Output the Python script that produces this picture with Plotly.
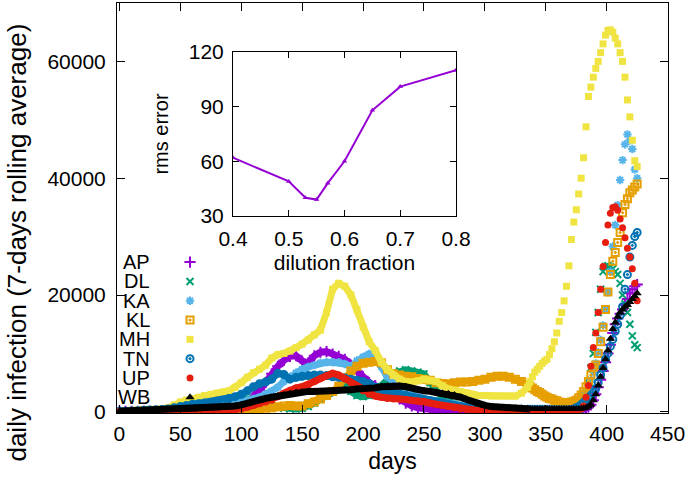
import plotly.graph_objects as go

# ---------------- data ----------------
DAYS_A = list(range(0, 336, 5))      # 0..335 every 5 days
DAYS_B = list(range(337, 426, 2))    # 337..425 every 2 days
DAYS = DAYS_A + DAYS_B

AP = [100, 100, 100, 100, 100, 100, 100, 100, 100, 100, 100, 150, 200, 250, 300, 350, 400, 500, 600, 800,
      1000, 1500, 2500, 3800, 5000, 6500, 7800, 8800, 9500, 9600, 8700, 8400, 9600, 10200, 10300, 9900, 9500, 9000, 8000, 7000,
      6000, 5000, 4500, 4000, 3600, 3000, 2200, 1500, 1000, 700, 500, 400, 300, 250, 200, 200, 150, 150, 150, 150,
      150, 150, 150, 150, 150, 150, 150, 150] + \
     [150, 150, 150, 150, 150, 150, 150, 150, 150, 150, 150, 150, 150, 150, 150, 150, 150, 150, 150, 150,
      150, 150, 300, 500, 800, 1200, 2000, 3000, 4200, 5500, 7000, 8500, 10000, 11500, 13500, 15000, 16000, 16800, 17500, 18300,
      19300, 20300, 21000, 21500, 21800]
DL = [50, 50, 50, 50, 80, 100, 100, 120, 150, 150, 200, 200, 250, 250, 300, 350, 400, 500, 800, 1200,
      1700, 2200, 2000, 1500, 1200, 1000, 800, 600, 500, 500, 600, 900, 1500, 2200, 2700, 3400, 4000, 4300, 3500, 2800,
      2600, 2800, 3400, 4300, 5500, 6500, 7000, 7200, 7000, 6800, 6500, 5000, 3500, 2500, 1800, 1300, 1000, 800, 600, 500,
      400, 400, 400, 400, 400, 400, 400, 400] + \
     [400, 400, 400, 400, 400, 400, 400, 400, 400, 400, 400, 400, 400, 400, 400, 400, 400, 400, 400, 400,
      400, 800, 1500, 3000, 5000, 7500, 10000, 13600, 17000, 21000, 24000, 24900, 25000, 24800, 24500, 24000, 23500, 22000, 20000, 18500,
      17000, 15000, 13000, 11500, 11000]
KA = [100, 100, 120, 150, 150, 200, 200, 250, 250, 300, 300, 400, 500, 600, 700, 800, 900, 1000, 1200, 1400,
      1700, 1900, 2200, 2500, 3000, 3500, 4200, 5200, 6000, 6700, 7300, 7700, 8000, 8400, 8500, 8500, 8500, 8200, 7800, 8800,
      9400, 9900, 9000, 7700, 6000, 5200, 4400, 3600, 3000, 2600, 2200, 2000, 1800, 1600, 1400, 1200, 1000, 900, 800, 700,
      600, 500, 500, 500, 500, 500, 500, 500] + \
     [500, 500, 500, 500, 500, 500, 500, 500, 500, 500, 500, 500, 500, 600, 700, 800, 1000, 1200, 1400, 1700,
      2100, 2500, 3000, 3700, 4500, 5500, 6800, 8300, 10200, 12300, 14800, 17500, 20500, 24000, 28300, 32000, 35400, 39700, 43100, 45800,
      47500, 46500, 45000, 41500, 40000]
KL = [0, 0, 0, 50, 50, 50, 100, 100, 100, 100, 150, 150, 150, 200, 200, 200, 250, 250, 300, 300,
      300, 300, 400, 500, 600, 700, 850, 1000, 1100, 1000, 1000, 1400, 1700, 2200, 2800, 3500, 4400, 5800, 7000, 7800,
      8300, 8500, 8600, 8400, 7200, 6500, 6300, 6100, 6000, 5700, 5600, 5400, 5000, 4800, 4800, 5000, 5100, 5100, 5200, 5400,
      5600, 5900, 6100, 6100, 5900, 5600, 5200, 4700] + \
     [4400, 4100, 3800, 3500, 3300, 3000, 2700, 2500, 2300, 2200, 2000, 1900, 1700, 1600, 1600, 1600, 1600, 1700, 1800, 2000,
      2400, 2900, 3500, 4300, 5200, 6300, 7600, 8000, 10000, 12000, 14500, 17500, 20500, 23500, 25800, 27300, 29000, 30700, 34100, 35500,
      36500, 37500, 38000, 38500, 39000]
MH = [200, 200, 250, 300, 350, 400, 450, 500, 700, 1200, 1700, 2000, 2200, 2500, 2800, 3000, 3200, 3400, 3600, 4200,
      5000, 5900, 6700, 7300, 8000, 9200, 9800, 10000, 10400, 11000, 11600, 12300, 13200, 14000, 17000, 21000, 22000, 21500, 20000, 17500,
      14500, 12000, 10500, 8500, 7200, 6200, 5600, 5200, 5100, 5300, 5600, 5400, 5200, 4500, 3900, 3700, 3400, 3200, 3000, 2800,
      2800, 2700, 2700, 2700, 2700, 2700, 3200, 4200] + \
     [5200, 6000, 6800, 7300, 7800, 8300, 8700, 9000, 9800, 10800, 12000, 13500, 15500, 17000, 19000, 21500, 25000, 29500, 32500, 34600,
      37300, 40000, 43500, 48800, 54000, 55600, 57300, 58800, 60000, 61500, 63000, 64500, 65300, 65400, 65000, 64000, 63000, 61500, 60000, 57300,
      53400, 50500, 46500, 43000, 42000]
TN = [100, 100, 150, 200, 250, 300, 350, 400, 500, 700, 900, 1100, 1300, 1400, 1500, 1600, 1800, 2000, 2300, 2600,
      3000, 3600, 4300, 4800, 5100, 5600, 6600, 6400, 5600, 5900, 6100, 6200, 6300, 6300, 6200, 6000, 5900, 5800, 5600, 5400,
      5200, 4800, 4200, 3800, 3500, 3300, 3100, 2800, 2500, 2200, 2000, 1900, 1700, 1500, 1300, 1100, 900, 700, 500, 400,
      350, 300, 300, 300, 300, 300, 300, 300] + \
     [300, 300, 300, 300, 300, 300, 300, 300, 300, 300, 300, 300, 300, 300, 300, 300, 300, 400, 500, 700,
      900, 1200, 1600, 2000, 2400, 2800, 3300, 4000, 5000, 6300, 7500, 9000, 10000, 11200, 12400, 13800, 15000, 16500, 18000, 21000,
      23500, 26500, 28500, 30000, 30700]
UP = [50, 50, 50, 50, 50, 50, 100, 100, 100, 100, 100, 150, 150, 200, 200, 250, 300, 300, 350, 400,
      500, 800, 1100, 1400, 1700, 2000, 2600, 3200, 3700, 4100, 4300, 4600, 5200, 5700, 6200, 6600, 6300, 5700, 5000, 4200,
      3600, 3000, 2700, 2500, 2300, 2200, 2200, 2100, 2000, 1900, 1800, 1500, 1300, 1100, 900, 700, 500, 400, 300, 200,
      150, 150, 150, 150, 150, 150, 150, 150] + \
     [150, 150, 150, 150, 150, 150, 150, 150, 150, 150, 150, 150, 150, 150, 150, 150, 150, 150, 150, 200,
      300, 500, 1000, 2500, 4500, 7800, 11000, 13500, 17000, 21000, 24900, 29000, 32000, 34000, 35000, 35100, 34500, 33000, 31500, 29800,
      28000, 26500, 24500, 22000, 19000]
WB = [100, 150, 150, 200, 200, 200, 250, 250, 300, 300, 300, 350, 400, 450, 500, 550, 600, 700, 800, 1000,
      1200, 1400, 1700, 2000, 2300, 2500, 2700, 2900, 3100, 3300, 3400, 3500, 3500, 3500, 3500, 3500, 3600, 3700, 3800, 3900,
      3900, 4000, 4100, 4300, 4400, 4400, 4400, 4300, 4000, 3700, 3600, 3500, 3300, 3200, 3100, 2900, 2500, 2100, 1700, 1300,
      1100, 900, 800, 700, 700, 600, 600, 500] + \
     [500, 500, 500, 500, 500, 500, 500, 500, 500, 500, 500, 500, 500, 500, 500, 500, 500, 500, 500, 500,
      500, 550, 600, 700, 900, 1200, 2000, 3000, 4500, 6000, 7500, 9000, 10500, 12500, 14200, 15300, 16300, 17000, 17500, 18000,
      18300, 18800, 19300, 19800, 20300]

STATES = ["AP", "DL", "KA", "KL", "MH", "TN", "UP", "WB"]
SERIES = [AP, DL, KA, KL, MH, TN, UP, WB]

X_TICKS = [0, 50, 100, 150, 200, 250, 300, 350, 400, 450]
Y_TICKS = [0, 20000, 40000, 60000]

# inset: rms error vs dilution fraction
DILUTION = [0.4, 0.5, 0.53, 0.55, 0.57, 0.6, 0.65, 0.7, 0.8]
RMS = [62, 49, 40, 39, 48, 60, 88, 101, 110]
INSET_X_TICKS = [0.4, 0.5, 0.6, 0.7, 0.8]
INSET_Y_TICKS = [30, 60, 90, 120]

# ---------------- styles ----------------
COLORS = ["#9400D3", "#009E73", "#56B4E9", "#E69F00", "#F0E442", "#0072B2", "#E51E10", "#000000"]
SYMBOLS = ["cross-thin-open", "x-thin-open", "asterisk-open", "square-open-dot",
           "square", "circle-open-dot", "circle", "triangle-up"]
SIZES = [8, 7, 7, 7, 7, 7, 7, 8]
LINEW = [2, 2, 2, 2, 0, 2, 0, 0]
BAND_W = 7

FONT = "Liberation Sans, Arial, sans-serif"
NA = len(DAYS_A)

fig = go.Figure()

for name, vals, col, sym, sz, lw in zip(STATES, SERIES, COLORS, SYMBOLS, SIZES, LINEW):
    # slowly varying part drawn as a thick band, like the overlapping daily points
    fig.add_trace(go.Scatter(
        x=DAYS[:NA + 1], y=vals[:NA + 1], mode="lines", showlegend=False, hoverinfo="skip",
        line=dict(color=col, width=BAND_W), xaxis="x", yaxis="y"))
    fig.add_trace(go.Scatter(
        x=DAYS, y=vals, mode="markers", name=name, showlegend=False,
        marker=dict(symbol=sym, size=sz, color=col,
                    line=dict(color=col, width=lw)),
        xaxis="x", yaxis="y"))

# custom legend (text on left, sample marker on right) on a helper axis
leg_y0 = 0.368
leg_dy = 0.0471
for i, (name, col, sym, sz, lw) in enumerate(zip(STATES, COLORS, SYMBOLS, SIZES, LINEW)):
    yy = leg_y0 - i * leg_dy
    fig.add_trace(go.Scatter(
        x=[0.1325], y=[yy], mode="markers", showlegend=False, hoverinfo="skip",
        marker=dict(symbol=sym, size=sz, color=col, line=dict(color=col, width=lw)),
        xaxis="x3", yaxis="y3"))
    fig.add_annotation(x=0.064, y=yy, xref="paper", yref="paper", text=name,
                       showarrow=False, xanchor="right", yanchor="middle",
                       font=dict(family=FONT, size=20, color="black"))

# y-axis title as rotated annotation (centred on the figure height like the reference)
fig.add_annotation(x=-0.182, y=0.415, xref="paper", yref="paper",
                   text="daily infection (7-days rolling average)", textangle=-90,
                   showarrow=False, xanchor="center", yanchor="middle",
                   font=dict(family=FONT, size=26, color="black"))

# inset
fig.add_trace(go.Scatter(
    x=DILUTION, y=RMS, mode="lines+markers", showlegend=False,
    line=dict(color="#9400D3", width=2),
    marker=dict(symbol="triangle-up", size=5, color="#9400D3"),
    xaxis="x2", yaxis="y2"))

axis_common = dict(showline=True, linecolor="black", linewidth=1, mirror="ticks",
                   ticks="inside", tickcolor="black", showgrid=False, zeroline=False,
                   automargin=False, ticklabeloverflow="allow",
                   tickfont=dict(family=FONT, size=21, color="black"))

fig.update_layout(
    width=685, height=478,
    margin=dict(l=117, r=17, t=3, b=65),
    paper_bgcolor="white", plot_bgcolor="white",
    font=dict(family=FONT, size=21, color="black"),
    xaxis=dict(domain=[0, 1], range=[-2, 450.3], tickvals=X_TICKS,
               tickformat="d", ticklen=8, ticklabelstandoff=2,
               title=dict(text="days", font=dict(family=FONT, size=23), standoff=8),
               **axis_common),
    yaxis=dict(domain=[0, 1], range=[-200, 70000], tickvals=Y_TICKS,
               tickformat="d", ticklen=8, ticklabelstandoff=6,
               **axis_common),
    xaxis2=dict(domain=[0.2105, 0.6152], range=[0.4, 0.8], anchor="y2",
                tickvals=INSET_X_TICKS, ticklen=6, ticklabelstandoff=4,
                title=dict(text="dilution fraction", font=dict(family=FONT, size=21), standoff=6),
                **axis_common),
    yaxis2=dict(domain=[0.4805, 0.8805], range=[30, 120], anchor="x2",
                tickvals=INSET_Y_TICKS, ticklen=6, ticklabelstandoff=4,
                title=dict(text="rms error", font=dict(family=FONT, size=20), standoff=14),
                **axis_common),
    xaxis3=dict(domain=[0, 1], range=[0, 1], visible=False, anchor="y3", overlaying="x"),
    yaxis3=dict(domain=[0, 1], range=[0, 1], visible=False, anchor="x3", overlaying="y"),
)

fig.write_html("out.html", config={"displayModeBar": False},
               post_script="document.body.style.margin='0px';")
